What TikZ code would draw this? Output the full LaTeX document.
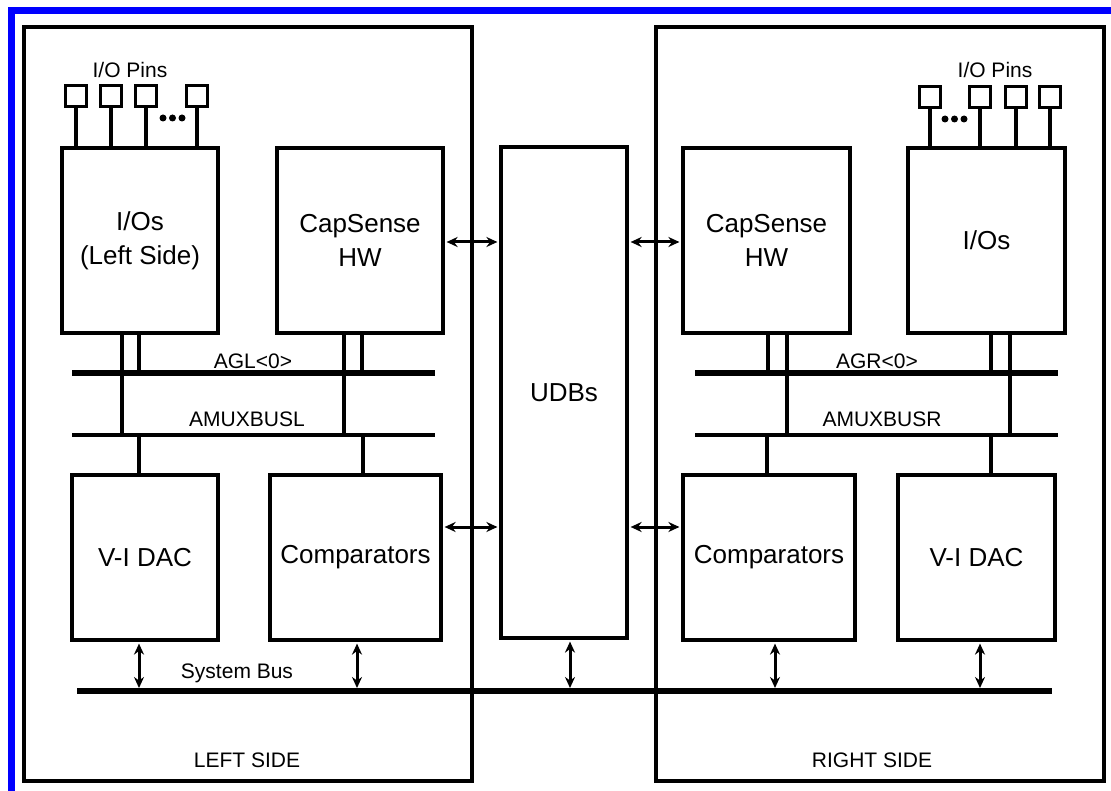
\documentclass[tikz,border=0pt]{standalone}
\usepackage{fontspec}
\setmainfont{Liberation Sans}
\usetikzlibrary{arrows.meta}
\begin{document}
\begin{tikzpicture}[x=1pt, y=-1pt,
  blk/.style = {draw, line width=3.6pt, inner sep=0pt, align=center, font=\fontsize{26}{34}\selectfont},
  pin/.style = {draw, line width=3pt, minimum size=21pt, inner sep=0pt},
  lbl/.style = {anchor=base, font=\fontsize{21}{25}\selectfont},
  side/.style = {draw, line width=3.4pt},
  abus/.style = {line width=6pt},
  mbus/.style = {line width=4pt},
  wire/.style = {line width=3.4pt},
  dbl/.style = {line width=3pt, {Stealth[length=11pt,width=10pt]}-{Stealth[length=11pt,width=10pt]}, shorten <=1.8pt, shorten >=1.8pt}]
\useasboundingbox (0,0) rectangle (1111,791);
\draw[line width=7pt, blue] (1111,11) -- (11,11) -- (11,791);
\draw[side] (24,27) rectangle (472,781);
\draw[side] (656,27) rectangle (1104,781);
\node[lbl] (leftlbl) at (247,767.5) {LEFT SIDE};
\node[lbl] (rightlbl) at (872,767.5) {RIGHT SIDE};

\node[blk, minimum width=156pt, minimum height=185pt] (iosL) at (140,240.5) {I/Os\\(Left Side)};
\node[blk, minimum width=166pt, minimum height=185pt] (capL) at (360,240.5) {CapSense\\HW};
\node[blk, minimum width=126pt, minimum height=491pt] (udb) at (564,392.5) {UDBs};
\node[blk, minimum width=167pt, minimum height=185pt] (capR) at (766.5,240.5) {CapSense\\HW};
\node[blk, minimum width=157pt, minimum height=185pt] (iosR) at (986.5,240.5) {I/Os};
\node[blk, minimum width=146pt, minimum height=165pt] (dacL) at (145,557.5) {V-I DAC};
\node[blk, minimum width=171pt, minimum height=165pt] (cmpL) at (355.5,557.5) {Comparators};
\node[blk, minimum width=172pt, minimum height=165pt] (cmpR) at (769,557.5) {Comparators};
\node[blk, minimum width=157pt, minimum height=165pt] (dacR) at (976.5,557.5) {V-I DAC};

\node[lbl] (pinsL) at (130,77.5) {I/O Pins};
\node[lbl] (pinsR) at (995,77.5) {I/O Pins};
\foreach \x [count=\i] in {76,111,146,197} {
  \node[pin] (pl\i) at (\x,96.5) {};
  \draw[wire] (pl\i) -- (pl\i |- iosL.north);
}
\foreach \x [count=\i] in {930,980,1016,1050} {
  \node[pin] (pr\i) at (\x,97.5) {};
  \draw[wire] (pr\i) -- (pr\i |- iosR.north);
}
\foreach \x in {163,172.5,182} \fill (\x,118) circle[radius=3.5pt];
\foreach \x in {945,954.5,964} \fill (\x,119) circle[radius=3.5pt];

\coordinate (aglw) at (72,373);
\coordinate (agle) at (435,373);
\coordinate (amlw) at (72,435);
\coordinate (amle) at (435,435);
\coordinate (agrw) at (695,373);
\coordinate (agre) at (1058,373);
\coordinate (amrw) at (695,435);
\coordinate (amre) at (1058,435);
\coordinate (sysw) at (77,691);
\coordinate (syse) at (1052,691);
\draw[abus] (aglw) -- (agle);
\draw[mbus] (amlw) -- (amle);
\draw[abus] (agrw) -- (agre);
\draw[mbus] (amrw) -- (amre);
\draw[abus] (sysw) -- (syse);
\node[lbl] (agllbl) at (253,368.5) {AGL<0>};
\node[lbl] (amllbl) at (247,426.5) {AMUXBUSL};
\node[lbl] (agrlbl) at (877,368.5) {AGR<0>};
\node[lbl] (amrlbl) at (882,426.5) {AMUXBUSR};
\node[lbl] (syslbl) at (237,678.5) {System Bus};

\foreach \n/\x/\b in {iosL/122/amlw, iosL/139/aglw, capL/344/amlw, capL/362/aglw,
  capR/768/agrw, capR/787/amrw, iosR/991/agrw, iosR/1010/amrw}
  \draw[wire] (\n.south -| \x,0) -- (\b -| \x,0);
\foreach \n/\x/\b in {dacL/139/amlw, cmpL/363/amlw, cmpR/767/amrw, dacR/991/amrw}
  \draw[wire] (\n.north -| \x,0) -- (\b -| \x,0);

\foreach \n/\x in {dacL/139, cmpL/357, udb/570, cmpR/775, dacR/980}
  \draw[dbl, shorten >=3pt] (\n.south -| \x,0) -- (sysw -| \x,0);
\draw[dbl] (capL.east |- 0,242) -- (udb.west |- 0,242);
\draw[dbl] (udb.east |- 0,242) -- (capR.west |- 0,242);
\draw[dbl] (cmpL.east |- 0,527) -- (udb.west |- 0,527);
\draw[dbl] (udb.east |- 0,527) -- (cmpR.west |- 0,527);
\end{tikzpicture}
\end{document}
